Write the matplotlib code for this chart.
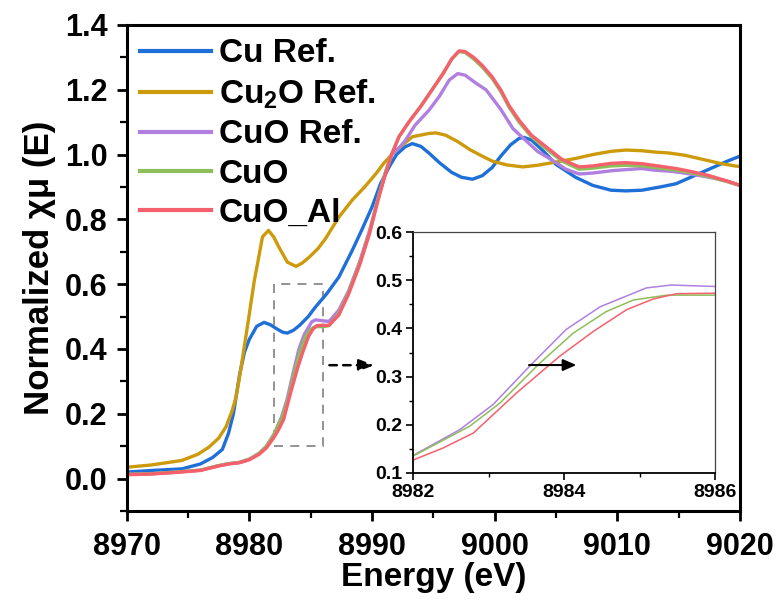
import matplotlib
matplotlib.use("Agg")
import matplotlib.pyplot as plt
from matplotlib.ticker import MultipleLocator, FormatStrFormatter
from matplotlib.patches import Rectangle

plt.rcParams['font.family'] = ['Liberation Sans', 'DejaVu Sans']
plt.rcParams['font.weight'] = 'bold'
plt.rcParams['mathtext.fontset'] = 'custom'
plt.rcParams['mathtext.rm'] = 'Liberation Sans:bold'
plt.rcParams['mathtext.it'] = 'Liberation Sans:bold'
plt.rcParams['mathtext.bf'] = 'Liberation Sans:bold'
plt.rcParams['mathtext.default'] = 'rm'

labels = ['Cu Ref.', 'Cu$_2$O Ref.', 'CuO Ref.', 'CuO', 'CuO_Al']
colors = ['#1f6fd8', '#cc9a0a', '#b07fe0', '#8cbf5a', '#f5606c']

cu_E = [8970, 8972, 8974.5, 8976, 8977, 8977.8, 8978.3, 8978.7, 8979.2, 8979.6, 8980.0,
        8980.6, 8981.2, 8981.7, 8982.2, 8982.7, 8983.1, 8983.6, 8984.1, 8984.8, 8985.4,
        8986.3, 8987.3, 8988.4, 8989.2, 8990.0, 8990.7, 8991.4, 8992.0, 8992.7, 8993.3,
        8994.0, 8994.7, 8995.5, 8996.5, 8997.3, 8998.2, 8999.0, 8999.8, 9000.5, 9001.3,
        9002.0, 9002.4, 9003.0, 9004.0, 9005.0, 9006.6, 9008.0, 9009.5, 9010.7, 9012.0,
        9013.5, 9014.8, 9016.0, 9017.5, 9019.0, 9020.0]
cu_V = [0.020, 0.025, 0.030, 0.045, 0.065, 0.090, 0.140, 0.200, 0.320, 0.390, 0.430,
        0.470, 0.482, 0.475, 0.463, 0.452, 0.449, 0.458, 0.473, 0.500, 0.530,
        0.570, 0.622, 0.705, 0.770, 0.838, 0.910, 0.962, 1.000, 1.024, 1.034,
        1.025, 1.003, 0.975, 0.945, 0.930, 0.924, 0.935, 0.960, 0.995, 1.030,
        1.050, 1.053, 1.045, 1.010, 0.970, 0.930, 0.905, 0.890, 0.888, 0.890,
        0.900, 0.910, 0.930, 0.955, 0.980, 0.995]

cu2o_E = [8970, 8972, 8974.5, 8975.8, 8976.7, 8977.5, 8978.1, 8978.6, 8978.9, 8979.2,
          8979.6, 8980.0, 8980.4, 8980.7, 8981.07, 8981.56, 8982.0, 8982.4, 8983.1,
          8983.8, 8984.3, 8984.9, 8985.6, 8986.2, 8987.3, 8988.4, 8989.4, 8990.3,
          8991.0, 8991.7, 8992.5, 8993.3, 8994.6, 8995.2, 8996.0, 8997.0, 8998.0,
          8999.0, 8999.8, 9001.0, 9002.3, 9003.5, 9005.0, 9006.6, 9008.0, 9009.5,
          9010.7, 9012.0, 9013.0, 9014.2, 9015.5, 9017.0, 9018.5, 9019.6, 9020.0]
cu2o_V = [0.035, 0.042, 0.056, 0.075, 0.097, 0.125, 0.160, 0.210, 0.250, 0.313,
          0.410, 0.509, 0.610, 0.670, 0.746, 0.766, 0.745, 0.715, 0.668,
          0.655, 0.665, 0.684, 0.710, 0.740, 0.807, 0.860, 0.900, 0.940,
          0.975, 1.003, 1.030, 1.055, 1.065, 1.067, 1.060, 1.040, 1.015,
          0.995, 0.980, 0.968, 0.962, 0.967, 0.977, 0.988, 1.000, 1.010,
          1.014, 1.012, 1.008, 1.005, 0.998, 0.985, 0.972, 0.965, 0.963]

cuoref_E = [8970, 8972, 8974, 8976, 8977.5, 8978.3, 8979.2, 8980.0, 8980.8, 8981.4,
            8982.02, 8982.62, 8983.06, 8983.59, 8984.03, 8984.48, 8985.09, 8985.42,
            8986.0, 8986.5, 8987.3, 8988.1, 8989.0, 8989.8, 8990.5, 8991.1, 8991.6,
            8992.2, 8992.75, 8993.5, 8994.65, 8995.5, 8996.3, 8997.0, 8997.6, 8998.5,
            8999.3, 9000.5, 9001.5, 9002.5, 9003.5, 9004.7, 9005.8, 9006.9, 9008.0,
            9009.5, 9010.5, 9012.0, 9013.0, 9014.5, 9016.0, 9017.5, 9019.0, 9020.0]
cuoref_V = [0.013, 0.015, 0.020, 0.026, 0.040, 0.046, 0.050, 0.060, 0.078, 0.100,
            0.138, 0.190, 0.242, 0.329, 0.398, 0.445, 0.484, 0.490,
            0.487, 0.485, 0.520, 0.580, 0.670, 0.765, 0.865, 0.945, 1.000,
            1.020, 1.045, 1.090, 1.137, 1.180, 1.230, 1.250, 1.245, 1.220,
            1.200, 1.140, 1.080, 1.045, 1.010, 0.983, 0.955, 0.940, 0.943,
            0.950, 0.953, 0.957, 0.952, 0.948, 0.940, 0.930, 0.918, 0.905]

cuo_E = [8970, 8972, 8974, 8976, 8977.5, 8978.3, 8979.2, 8980.0, 8980.8, 8981.4,
         8982.0, 8982.75, 8983.15, 8983.68, 8984.12, 8984.56, 8984.92, 8985.36,
         8986.0, 8986.5, 8987.3, 8988.1, 8989.0, 8989.8, 8990.5, 8991.1, 8991.6,
         8992.2, 8993.0, 8994.0, 8994.9, 8995.8, 8996.5, 8997.1, 8997.6, 8998.3,
         8999.0, 8999.8, 9000.5, 9001.2, 9002.0, 9003.0, 9004.2, 9005.5, 9006.9,
         9008.0, 9009.5, 9010.7, 9012.0, 9013.5, 9014.8, 9016.0, 9017.5, 9019.0, 9020.0]
cuo_V = [0.013, 0.015, 0.020, 0.026, 0.040, 0.046, 0.050, 0.060, 0.078, 0.100,
         0.135, 0.197, 0.245, 0.328, 0.390, 0.435, 0.459, 0.469,
         0.469, 0.472, 0.510, 0.575, 0.665, 0.760, 0.865, 0.945, 1.000,
         1.055, 1.100, 1.150, 1.200, 1.250, 1.295, 1.318, 1.315, 1.295,
         1.270, 1.235, 1.195, 1.145, 1.100, 1.055, 1.018, 0.980, 0.955,
         0.958, 0.965, 0.967, 0.965, 0.958, 0.952, 0.944, 0.932, 0.916, 0.905]

cuoal_E = [8970, 8972, 8974, 8976, 8977.5, 8978.3, 8979.2, 8980.0, 8980.8, 8981.4,
           8982.02, 8982.4, 8982.8, 8983.37, 8983.94, 8984.39, 8984.83, 8985.18,
           8985.49, 8986.0, 8986.5, 8987.3, 8988.1, 8989.0, 8989.8, 8990.5, 8991.1,
           8991.6, 8992.2, 8993.0, 8994.0, 8994.9, 8995.8, 8996.5, 8997.1, 8997.6,
           8998.3, 8999.0, 8999.8, 9000.5, 9001.2, 9002.0, 9003.0, 9004.2, 9005.5,
           9006.9, 9008.0, 9009.5, 9010.7, 9012.0, 9013.5, 9014.8, 9016.0, 9017.5,
           9019.0, 9020.0]
cuoal_V = [0.012, 0.014, 0.019, 0.025, 0.039, 0.045, 0.049, 0.058, 0.075, 0.095,
           0.128, 0.152, 0.183, 0.266, 0.342, 0.394, 0.439, 0.461,
           0.472, 0.473, 0.473, 0.505, 0.570, 0.660, 0.756, 0.860, 0.940,
           1.000, 1.055, 1.100, 1.150, 1.200, 1.250, 1.295, 1.320, 1.318,
           1.300, 1.275, 1.240, 1.200, 1.150, 1.106, 1.060, 1.024, 0.985,
           0.962, 0.965, 0.973, 0.975, 0.972, 0.964, 0.957, 0.948, 0.935,
           0.918, 0.905]

series_E = [cu_E, cu2o_E, cuoref_E, cuo_E, cuoal_E]
series_V = [cu_V, cu2o_V, cuoref_V, cuo_V, cuoal_V]

fig = plt.figure(figsize=(7.79, 6.05), dpi=100)
ax = fig.add_axes([0.1627, 0.1554, 0.7870, 0.8033])

for E, V, c, lab in zip(series_E, series_V, colors, labels):
    ax.plot(E, V, color=c, lw=2.4, label=lab, solid_joinstyle='round')

ax.set_xlim(8970, 9020)
ax.set_ylim(-0.1, 1.4)
ax.xaxis.set_major_locator(MultipleLocator(10))
ax.xaxis.set_minor_locator(MultipleLocator(5))
ax.yaxis.set_major_locator(MultipleLocator(0.2))
ax.yaxis.set_minor_locator(MultipleLocator(0.1))
ax.yaxis.set_major_formatter(FormatStrFormatter('%.1f'))
ax.tick_params(which='major', direction='out', length=7, width=2, labelsize=22,
               top=False, right=False)
ax.tick_params(axis='x', which='major', pad=8)
ax.tick_params(axis='y', which='major', pad=7)
ax.tick_params(which='minor', direction='out', length=5, width=1.6, top=False, right=False)
for s in ax.spines.values():
    s.set_linewidth(2.2)
ax.set_xlabel('Energy (eV)', fontsize=24, fontweight='bold', labelpad=0)
ax.set_ylabel('Normalized χμ (E)', fontsize=25, fontweight='bold', labelpad=6)

leg = ax.legend(loc='upper left', bbox_to_anchor=(0.0, 1.0), frameon=False,
                fontsize=24, handlelength=2.13, handletextpad=0.24,
                labelspacing=0.25, borderaxespad=0.1, borderpad=0.3)
for line in leg.get_lines():
    line.set_linewidth(3)

# dashed zoom box and arrow
ax.add_patch(Rectangle((8982, 0.1), 4, 0.5, fill=False, ls=(0, (5, 4)),
                       ec='#8a8a8a', lw=1.3))
ax.annotate('', xy=(8990.4, 0.35), xytext=(8986.3, 0.35),
            arrowprops=dict(arrowstyle='-|>,head_length=0.9,head_width=0.35',
                            ls=(0, (3, 2.5)), color='black', lw=1.8))

# inset
ins = fig.add_axes([0.5302, 0.2182, 0.3877, 0.3983])
for E, V, c in zip(series_E[2:], series_V[2:], colors[2:]):
    ins.plot(E, V, color=c, lw=1.1)
ins.set_xlim(8982, 8986)
ins.set_ylim(0.1, 0.6)
ins.xaxis.set_major_locator(MultipleLocator(2))
ins.xaxis.set_minor_locator(MultipleLocator(1))
ins.yaxis.set_major_locator(MultipleLocator(0.1))
ins.yaxis.set_minor_locator(MultipleLocator(0.05))
ins.yaxis.set_major_formatter(FormatStrFormatter('%.1f'))
ins.tick_params(which='major', direction='out', length=5, width=1.2, labelsize=14,
                pad=3, top=False, right=False)
ins.tick_params(which='minor', direction='out', length=3, width=1.0, top=False, right=False)
ins.spines['left'].set_linewidth(1.3)
ins.spines['bottom'].set_linewidth(1.3)
ins.spines['top'].set_linewidth(0.9)
ins.spines['right'].set_linewidth(0.9)
ins.spines['top'].set_color('#444444')
ins.spines['right'].set_color('#444444')
ins.annotate('', xy=(8984.2, 0.324), xytext=(8983.5, 0.324),
             arrowprops=dict(arrowstyle='-|>,head_length=0.8,head_width=0.35',
                             color='black', lw=1.5))

fig.savefig('out.png', dpi=100)
